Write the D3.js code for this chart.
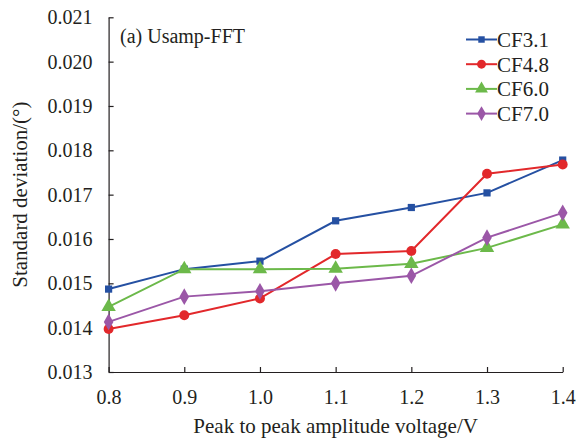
<!DOCTYPE html>
<html>
<head>
<meta charset="utf-8">
<script src="https://cdn.jsdelivr.net/npm/d3@7"></script>
<style>
  body { margin: 0; background: #fff; }
  svg text { font-family: "Liberation Serif", Tinos, "Nimbus Roman", "DejaVu Serif", serif !important; fill: #231f20; }
</style>
</head>
<body>
<svg id="chart" width="576" height="438"></svg>
<script>
// data
var voltages = [0.8, 0.9, 1.0, 1.1, 1.2, 1.3, 1.4];
var cf31 = [0.01487, 0.01532, 0.01550, 0.01641, 0.01671, 0.01704, 0.01778];
var cf48 = [0.01397, 0.01428, 0.01466, 0.01566, 0.01573, 0.01747, 0.01768];
var cf60 = [0.01447, 0.01532, 0.01532, 0.01533, 0.01544, 0.01580, 0.01633];
var cf70 = [0.01413, 0.01470, 0.01482, 0.01500, 0.01517, 0.01603, 0.01659];
var seriesNames = ["CF3.1", "CF4.8", "CF6.0", "CF7.0"];
var yTicks = [0.013, 0.014, 0.015, 0.016, 0.017, 0.018, 0.019, 0.020, 0.021];

var colors = ["#2550a2", "#e2282b", "#6cb94a", "#9b57a7"];
var symbols = [d3.symbolSquare, d3.symbolCircle, d3.symbolTriangle, d3.symbolDiamond];
var symSize = [52, 78, 90, 80];
var allVals = [cf31, cf48, cf60, cf70];

var svg = d3.select("#chart");
var margin = {left: 108.6, right: 13.3, top: 17.3, bottom: 66};
var W = 576, H = 438;

var x = d3.scaleLinear().domain([0.8, 1.4]).range([margin.left, W - margin.right]);
var y = d3.scaleLinear().domain([0.013, 0.021]).range([H - margin.bottom, margin.top]);

// axes
var xAxis = svg.append("g")
  .attr("transform", "translate(0," + y(0.013) + ")")
  .call(d3.axisBottom(x).tickValues(voltages).tickSizeInner(-5).tickSizeOuter(0)
    .tickPadding(14).tickFormat(d3.format(".1f")));
var yAxis = svg.append("g")
  .attr("transform", "translate(" + x(0.8) + ",0)")
  .call(d3.axisLeft(y).tickValues(yTicks).tickSizeInner(-5).tickSizeOuter(0)
    .tickPadding(16).tickFormat(d3.format(".3f")));
svg.selectAll("g").attr("font-family", null);
svg.selectAll(".domain, .tick line").attr("stroke", "#231f20").attr("stroke-width", 1.2);
svg.selectAll(".tick text").style("font-size", "20px").attr("fill", "#231f20");
xAxis.selectAll(".tick text").attr("dy", "0.9em");

// axis titles
svg.append("text")
  .attr("x", (x(0.8) + x(1.4)) / 2).attr("y", 433)
  .attr("text-anchor", "middle").style("font-size", "21px")
  .text("Peak to peak amplitude voltage/V");
svg.append("text")
  .attr("transform", "translate(27," + ((y(0.013) + y(0.021)) / 2) + ") rotate(-90)")
  .attr("text-anchor", "middle").style("font-size", "21px")
  .text("Standard deviation/(°)");

svg.append("text")
  .attr("x", 120).attr("y", 43)
  .style("font-size", "20px")
  .text("(a) Usamp-FFT");

// lines and markers
var line = d3.line().x(function(d) { return x(d[0]); }).y(function(d) { return y(d[1]); });

allVals.forEach(function(vals, i) {
  var pts = voltages.map(function(v, k) { return [v, vals[k]]; });
  svg.append("path")
    .datum(pts)
    .attr("d", line)
    .attr("fill", "none")
    .attr("stroke", colors[i])
    .attr("stroke-width", 2);
  svg.selectAll(".m" + i)
    .data(pts)
    .enter().append("path")
    .attr("class", "m" + i)
    .attr("transform", function(d) { return "translate(" + x(d[0]) + "," + y(d[1]) + ")"; })
    .attr("d", d3.symbol().type(symbols[i]).size(symSize[i]))
    .attr("fill", colors[i]);
});

// legend
var legend = svg.append("g").attr("transform", "translate(466,39.5)");
seriesNames.forEach(function(name, i) {
  var g = legend.append("g").attr("transform", "translate(0," + (i * 24.7) + ")");
  g.append("line").attr("x1", 0).attr("x2", 31).attr("y1", 0).attr("y2", 0)
    .attr("stroke", colors[i]).attr("stroke-width", 2);
  g.append("path").attr("transform", "translate(15.5,0)")
    .attr("d", d3.symbol().type(symbols[i]).size(symSize[i] * 0.8))
    .attr("fill", colors[i]);
  g.append("text").attr("x", 31).attr("y", 0).attr("dy", "0.35em")
    .style("font-size", "21px").text(name);
});
</script>
</body>
</html>
